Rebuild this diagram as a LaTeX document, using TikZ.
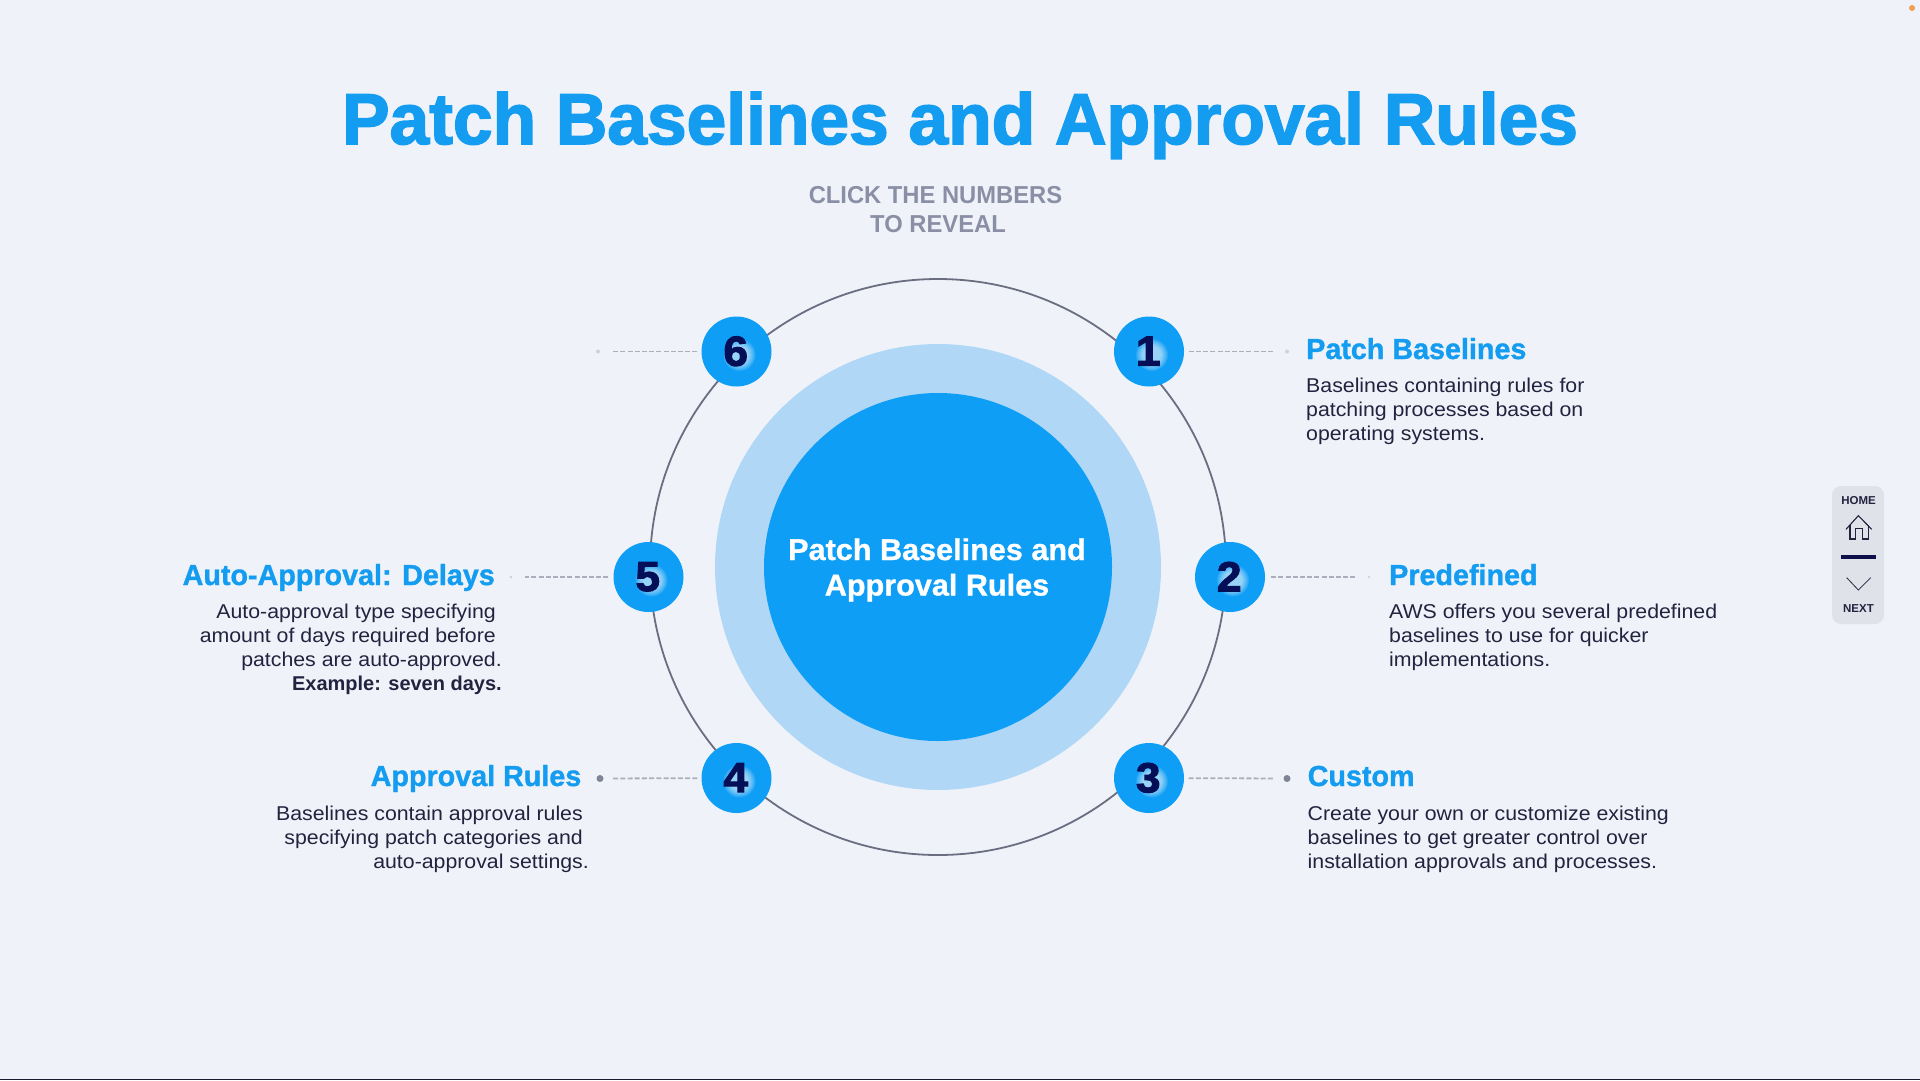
\documentclass[tikz,border=0pt]{standalone}
\usepackage{fontspec}
\setmainfont{Liberation Sans}
\newfontfamily\headf[FakeStretch=.99,FakeBold=1.2]{Liberation Sans Bold}
\newfontfamily\centerf[FakeStretch=1.02,FakeBold=1.0]{Liberation Sans Bold}
\newfontfamily\titlef[FakeStretch=.99,FakeBold=2.2]{Liberation Sans Bold}
\newfontfamily\numf[FakeStretch=1.05,FakeBold=2.6]{Liberation Sans Bold}
\newfontfamily\bodyf[FakeStretch=1.065]{Liberation Sans}
\newfontfamily\bodybf[FakeStretch=1.0]{Liberation Sans Bold}
\newfontfamily\subf[FakeStretch=.97]{Liberation Sans Bold}
\definecolor{bgc}{HTML}{EFF3F9}
\definecolor{blu}{HTML}{0F9EF6}
\definecolor{pale}{HTML}{B0D8F6}
\definecolor{headc}{HTML}{149CF0}
\definecolor{bodyc}{HTML}{23233F}
\definecolor{subc}{HTML}{8B8FA6}
\definecolor{ringc}{HTML}{6B6D80}
\definecolor{digc}{HTML}{050F58}
\definecolor{navc}{HTML}{DFE2E8}
\definecolor{navd}{HTML}{0F0F4A}
\definecolor{dashc}{HTML}{ACAEBC}
\definecolor{dotc}{HTML}{7F8496}
\definecolor{dotf}{HTML}{CBD2DC}
\definecolor{orng}{HTML}{F0A050}
\definecolor{botc}{HTML}{1A1A30}
\newcommand{\digit}[1]{\kern-1.5pt\raisebox{.8pt}{#1}}
\tikzset{
 x=1pt,y=-1pt,
 titletxt/.style={anchor=base,inner sep=0,text=headc,font={\titlef\fontsize{72}{72}\selectfont}},
 subtxt/.style={anchor=base,inner sep=0,text=subc,font={\subf\fontsize{24.5}{24.5}\selectfont}},
 headL/.style={anchor=base west,inner sep=0,text=headc,font={\headf\fontsize{29}{29}\selectfont}},
 headR/.style={anchor=base east,inner sep=0,text=headc,font={\headf\fontsize{29}{29}\selectfont}},
 bodyL/.style={anchor=base west,inner sep=0,text=bodyc,font={\bodyf\fontsize{20}{20}\selectfont}},
 bodyR/.style={anchor=base east,inner sep=0,text=bodyc,font={\bodyf\fontsize{20}{20}\selectfont}},
 bodyRb/.style={anchor=base east,inner sep=0,text=bodyc,font={\bodybf\fontsize{20}{20}\selectfont}},
 numc/.style={circle,fill=blu,minimum size=70pt,inner sep=0,text=digc,font={\numf\fontsize{42}{42}\selectfont},
   path picture={
   \foreach \r in {9,10,11,12,13,14,15,16}
     \fill[white,opacity=.1] ([shift={(3pt,-3.5pt)}]path picture bounding box.center) circle (\r pt);}},
 conn/.style={draw=dashc,line width=1.8pt,dash pattern=on 5pt off 2.2pt},
 dotS/.style={circle,fill=dotc,minimum size=7pt,inner sep=0},
 dotW/.style={circle,fill=dotf,minimum size=4pt,inner sep=0},
 navtxt/.style={anchor=center,inner sep=0,text=bodyc,font={\bodybf\fontsize{11.5}{11.5}\selectfont}},
 navline/.style={draw=bodyc,line width=1.1pt,line join=miter},
}
\begin{document}
\begin{tikzpicture}
\useasboundingbox (0,0) rectangle (1920,1080);
\fill[bgc] (0,0) rectangle (1920,1080);
\fill[botc] (0,1078.6) rectangle (1920,1080);
\node[circle,fill=orng,minimum size=6pt,inner sep=0] (odot) at (1912,8) {};

% title
\node[titletxt] (title) at (960,144) {Patch Baselines and Approval Rules};
\node[subtxt] (sub1) at (935.5,203) {CLICK THE NUMBERS};
\node[subtxt] (sub2) at (938,232) {TO REVEAL};

% rings
\node[circle,fill=pale,minimum size=446pt,inner sep=0] (mid) at (938,567) {};
\node[circle,fill=blu,minimum size=348pt,inner sep=0] (inner) at (938,567) {};
\node[inner sep=0,text=white,align=center,
  font={\centerf\fontsize{30}{35.5}\selectfont}] (ctext) at (937,570) {Patch Baselines and\\Approval Rules};
\node[circle,draw=ringc,line width=1.8pt,minimum size=576pt,inner sep=0] (ring) at (938,567) {};

% number nodes
\node[numc] (n1) at (1149,351.5) {\digit{1}};
\node[numc] (n2) at (1230,577) {\digit{2}};
\node[numc] (n3) at (1149,778) {\digit{3}};
\node[numc] (n4) at (736.5,778) {\digit{4}};
\node[numc] (n5) at (648.5,577) {\digit{5}};
\node[numc] (n6) at (736.5,351.5) {\digit{6}};

% dots
\node[dotW] (d1) at (1287,351.5) {};
\node[dotW,minimum size=2.5pt] (d2) at (1369,577) {};
\node[dotS] (d3) at (1287,778.5) {};
\node[dotS] (d4) at (600,778.5) {};
\node[dotW,minimum size=3pt] (d5) at (511,577) {};
\node[dotW] (d6) at (598,351.5) {};

% connectors
\draw[conn,shorten <=4.5pt,shorten >=12pt] (n1) -- (d1);
\draw[conn,shorten <=6pt,shorten >=13pt] (n2) -- (d2);
\draw[conn,shorten <=4.5pt,shorten >=10pt] (n3) -- (d3);
\draw[conn,shorten <=4pt,shorten >=9pt] (n4) -- (d4);
\draw[conn,shorten <=5pt,shorten >=12pt] (n5) -- (d5);
\draw[conn,shorten <=4pt,shorten >=11pt] (n6) -- (d6);

% block 1
\node[headL] (h1) at (1306,359) {Patch Baselines};
\node[bodyL] (b11) at (1306,392) {Baselines containing rules for};
\node[bodyL] (b12) at (1306,416) {patching processes based on};
\node[bodyL] (b13) at (1306,440) {operating systems.};
% block 2
\node[headL] (h2) at (1389,585) {Predefined};
\node[bodyL] (b21) at (1389,618) {AWS offers you several predefined};
\node[bodyL] (b22) at (1389,642) {baselines to use for quicker};
\node[bodyL] (b23) at (1389,666) {implementations.};
% block 3
\node[headL] (h3) at (1307.5,786) {Custom};
\node[bodyL] (b31) at (1307.5,820) {Create your own or customize existing};
\node[bodyL] (b32) at (1307.5,844) {baselines to get greater control over};
\node[bodyL] (b33) at (1307.5,868) {installation approvals and processes.};
% block 4
\node[headR] (h4) at (581.5,786) {Approval Rules};
\node[bodyR] (b41) at (583,820) {Baselines contain approval rules};
\node[bodyR] (b42) at (583,844) {specifying patch categories and};
\node[bodyR] (b43) at (589,868) {auto-approval settings.};
% block 5
\node[headR] (h5) at (495,585) {Auto-Approval: Delays};
\node[bodyR] (b51) at (496,618) {Auto-approval type specifying};
\node[bodyR] (b52) at (496,642) {amount of days required before};
\node[bodyR] (b53) at (502,666) {patches are auto-approved.};
\node[bodyRb] (b54) at (502,690) {Example: seven days.};

% navigation
\fill[navc,rounded corners=9pt] (1832,486) rectangle (1884,624);
\node[navtxt] (home) at (1858.5,501) {HOME};
\node[navtxt] (next) at (1858.5,609) {NEXT};
\draw[navline] (1846,529.3) -- (1858.3,515.7) -- (1871.7,529.3);
\draw[navline] (1850,525) -- (1850,539) -- (1855.7,539) -- (1855.7,528.3) -- (1862.3,528.3) -- (1862.3,539) -- (1868.3,539) -- (1868.3,525);
\fill[navd] (1841,555) rectangle (1876,559.3);
\draw[navline,line width=.8pt] (1846.7,577.7) -- (1858.3,590) -- (1870.7,577.7);
\end{tikzpicture}
\end{document}
